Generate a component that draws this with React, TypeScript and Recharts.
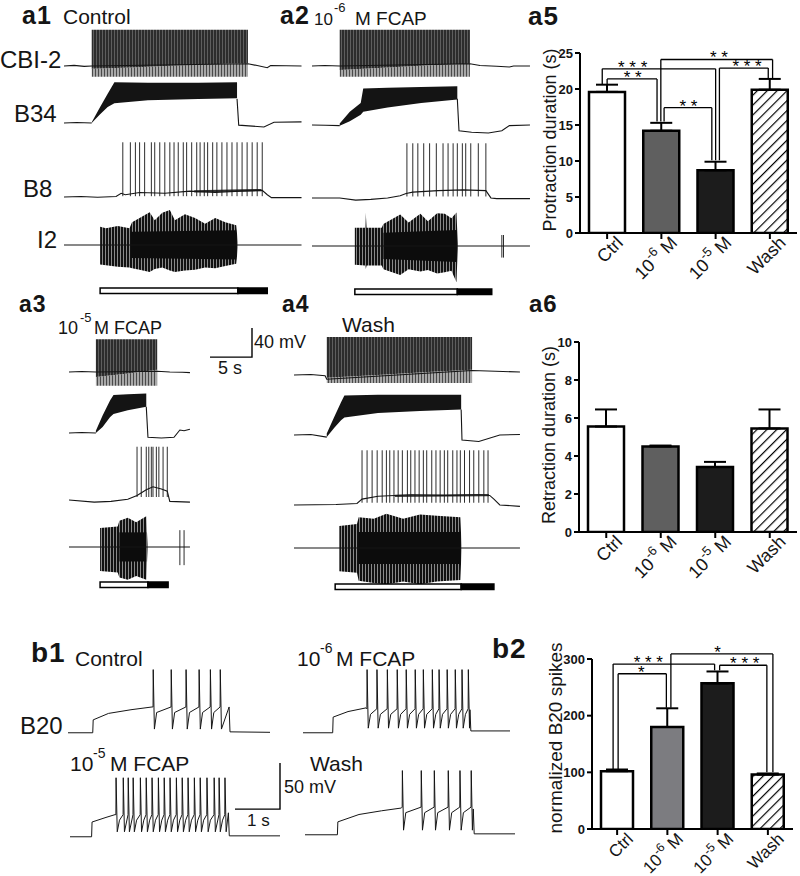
import React from 'react';
import {
  ComposedChart,
  LineChart,
  Line,
  Area,
  Bar,
  Cell,
  XAxis,
  YAxis,
  ErrorBar,
  ReferenceLine,
  ReferenceDot
} from 'recharts';

const FONT = '"Liberation Sans", Arial, Helvetica, sans-serif';
const INK = '#151515';

type Pt = [number, number | null];
type Rng = [number, number, number];

// ---------- a panels: time in s, potential in mV relative to rest ----------
const A_SEC_PX = 8.4;
const A_YDOM: [number, number] = [-55, 85];
const A_H = 102;

// a1 Control
const a1Cbi2Base: Pt[] = [[0, 0], [1.2, 0.8], [2.4, -0.6], [3.3, 0], [21.9, 3], [23, 0.5], [24.2, -2.5], [24.6, 0.5], [28.3, 0]];
const a1Cbi2Upper: Rng[] = [[3.3, -4, 49.5], [8, -2, 49.5], [14, 1, 49.5], [21.9, 4, 49.5]];
const a1Cbi2Lower: Rng[] = [[3.3, -15, -4], [8, -15, -2], [14, -15, 1], [21.9, -15, 4]];
const a1B34Base: Pt[] = [[0, 0], [1.5, 0.5], [3.3, 0], [3.4, null], [20.6, 33], [20.8, -3], [22, -4], [23.8, -5.5], [25, 1], [28.3, 1.4]];
const a1B34Band: Rng[] = [[3.3, 0, 1], [4.3, 12, 22], [5.2, 22, 40], [6.0, 27, 56], [10, 31, 55], [16, 33, 55], [20.6, 34, 56]];
const a1B8Base: Pt[] = [[0, 0], [2, 0.5], [4, -0.5], [6.2, 0.5], [6.8, 5], [7.3, 3], [9, 6], [12, 5], [15, 8], [18, 6], [21, 8], [23.6, 9], [24.2, 3], [24.7, -1], [28.3, -1]];
const a1B8Noise: Rng[] = [[15.5, 6, 9], [23.5, 8, 11]];
const a1B8Spikes = [7.0, 7.9, 8.5, 9.0, 9.6, 10.4, 10.8, 11.4, 12.0, 12.6, 13.1, 13.6, 14.2, 14.6, 15.2, 15.8, 16.2, 16.7, 17.1, 17.7, 18.2, 18.8, 19.4, 20.0, 20.6, 21.2, 21.8, 22.4, 23.0, 23.6];
const a1I2Base: Pt[] = [[0, 0], [28.3, 0]];
const a1I2Envelope: Rng[] = [[4.3, -27, 25], [5.0, -28, 23], [6.4, -30, 26], [7.8, -31, 23], [8.1, -32, 31], [9.0, -34, 37], [10.2, -37, 45], [10.8, -33, 34], [11.7, -31, 44], [12.6, -35, 48], [13.2, -37, 34], [14.4, -35, 42], [15.6, -34, 37], [16.8, -31, 29], [18.0, -32, 37], [19.2, -29, 31], [20.5, -26, 27], [20.7, -4, 4]];
const a1I2Core: Rng[] = [[8.0, -18, 18], [20.5, -20, 20]];

// a2 10^-6 M FCAP
const a2Cbi2Base: Pt[] = [[0, 0], [1.5, 0.5], [3.3, 0], [18.8, 3], [20, 0.5], [22, -0.5], [23.5, -1.5], [24, 0], [25.95, 0]];
const a2Cbi2Upper: Rng[] = [[3.3, -5.5, 49.5], [9, -2, 49.5], [14, 1, 49.5], [18.8, 3, 49.5]];
const a2Cbi2Lower: Rng[] = [[3.3, -15, -5.5], [9, -15, -2], [14, -15, 1], [18.8, -15, 3]];
const a2B34Base: Pt[] = [[0, 0], [1.6, -0.5], [3.3, -1], [3.4, null], [17.3, 36], [17.5, -8], [19, -10], [21, -11], [22.6, -8], [23.5, -1], [25.95, 0]];
const a2B34Band: Rng[] = [[3.3, -1, 2], [4.5, 5, 18], [5.8, 14, 30], [6.1, 18, 50], [9, 24, 51], [13, 30, 52], [17.3, 35, 53]];
const a2B8Base: Pt[] = [[0, 0], [3.3, 0], [5.2, -3], [7, -2], [9, 0], [10.5, 3], [11.2, 6], [12, 8], [15, 10], [18, 11], [20.7, 10], [21.3, 0], [22, -1], [25.95, -1]];
const a2B8Spikes = [11.3, 12.0, 12.6, 13.3, 14.0, 14.8, 15.6, 16.2, 16.8, 17.3, 17.9, 18.3, 18.9, 19.8, 20.7];
const a2I2Base: Pt[] = [[0, 0], [25.95, 0]];
const a2I2Envelope: Rng[] = [[5.1, -26, 25], [6.3, -27, 25], [6.4, -32, 46], [6.5, -27, 25], [8.3, -27, 25], [8.5, -32, 30], [10.5, -40, 43], [11.5, -32, 32], [12.9, -35, 44], [13.8, -33, 34], [14.9, -38, 45], [15.8, -36, 44], [16.6, -34, 38], [17.2, -50, 46], [17.35, -4, 4]];
const a2I2Core: Rng[] = [[8.5, -18, 18], [17.2, -22, 22]];
const a2I2Spikes = [22.6, 22.8];

// a3 10^-5 M FCAP
const a3Cbi2Base: Pt[] = [[0, 0], [1.5, 0.5], [3.2, 0], [10.5, 1], [12, 0], [13.5, -0.5], [14.4, -1]];
const a3Cbi2Upper: Rng[] = [[3.2, -7, 45], [7, -2, 45], [10.5, 3, 45]];
const a3Cbi2Lower: Rng[] = [[3.2, -19, -7], [7, -19, -2], [10.5, -19, 3]];
const a3B34Base: Pt[] = [[0, 0], [1.5, 0.5], [3.2, 0], [3.3, null], [9.2, 36], [9.4, -6], [11, -7], [12.5, -6], [13.2, 4], [13.7, 3], [14.4, 5]];
const a3B34Band: Rng[] = [[3.2, 0, 3], [4.0, 8, 24], [4.9, 22, 45], [5.3, 26, 52], [7, 31, 53], [9.2, 36, 54]];
const a3B8Base: Pt[] = [[0, 0], [3, -3], [5, -2], [7, 1], [8.1, 6], [9.2, 14], [10, 18], [11, 15], [11.7, 12], [12.0, -2], [14.4, -3]];
const a3B8Spikes = [8.1, 8.6, 9.2, 9.5, 9.8, 10.0, 10.4, 10.7, 11.2, 11.7];
const a3I2Base: Pt[] = [[0, 0], [14.4, 0]];
const a3I2Envelope: Rng[] = [[3.7, -33, 26], [5.8, -35, 28], [6.0, -42, 36], [7.0, -45, 40], [8.0, -40, 34], [9.2, -45, 42], [9.35, -4, 4]];
const a3I2Core: Rng[] = [[6.0, -20, 20], [9.2, -20, 20]];
const a3I2Spikes = [13.2, 13.7];

// a4 Wash
const a4Cbi2Base: Pt[] = [[0, 0], [2, 0.5], [3.7, -1], [3.9, -6], [21.2, 6], [24, 5], [26.9, 4]];
const a4Cbi2Upper: Rng[] = [[3.9, -4, 52], [10, 0, 52], [16, 4, 52], [21.2, 7, 52]];
const a4Cbi2Lower: Rng[] = [[3.9, -11, -4], [10, -11, 0], [16, -11, 4], [21.2, -11, 7]];
const a4B34Base: Pt[] = [[0, 0], [2, 0.5], [3.9, -3], [4.0, null], [19.9, 35], [20.0, -7], [22, -9], [24.5, 0], [26.9, 0.5]];
const a4B34Band: Rng[] = [[3.9, -3, 2], [4.8, 10, 25], [5.6, 20, 45], [6.0, 24, 54], [10, 30, 55], [15, 33, 55], [19.9, 35, 55]];
const a4B8Base: Pt[] = [[0, 0], [5, 0.5], [7.5, 2], [8.1, 8], [10, 12], [14, 14], [18, 13], [22, 14], [23.3, 13], [23.8, 8], [24.5, 0], [26.9, -2]];
const a4B8Noise: Rng[] = [[12, 11, 14], [23.2, 12, 15]];
const a4B8Spikes = [8.1, 8.7, 9.3, 9.9, 10.5, 11.0, 11.4, 11.9, 12.4, 12.9, 13.5, 13.9, 14.4, 14.9, 15.4, 15.8, 16.4, 16.9, 17.4, 17.9, 18.3, 18.9, 19.4, 19.8, 20.3, 20.9, 21.4, 22.0, 22.6, 23.1];
const a4I2Base: Pt[] = [[0, 0], [26.9, 0]];
const a4I2Envelope: Rng[] = [[5.4, -32, 30], [7.5, -34, 33], [7.7, -45, 42], [9.5, -48, 40], [11, -50, 47], [13, -46, 40], [15, -50, 46], [17, -46, 44], [19.8, -44, 42], [19.95, -4, 4]];
const a4I2Core: Rng[] = [[7.7, -22, 22], [19.8, -22, 22]];

// protraction / retraction bars (s)
const protocolStart = [4.3, 5.1, 3.7, 4.9];
const protractionDur = [16.4, 12.2, 5.7, 15.0];
const retractionDur = [3.5, 4.1, 2.4, 3.9];

// ---------- b1: B20 traces ----------
const B_SEC_PX = 45;
const B_YDOM: [number, number] = [-10, 80];
const B_H = 83;

const bCtrlPre: Pt[] = [[0, 0], [0.55, 0], [0.56, 14], [0.9, 21], [1.4, 25], [1.87, 28]];
const bCtrlSpikes = [1.89, 2.29, 2.62, 2.91, 3.16, 3.38];
const bCtrlPost: Pt[] = [[3.58, 28], [3.6, 1], [4.49, 0.5]];
const bM6Pre: Pt[] = [[0, 0], [0.66, 0], [0.67, 17], [1.0, 23], [1.4, 27]];
const bM6Spikes = [1.42, 1.64, 1.87, 2.09, 2.29, 2.49, 2.67, 2.87, 3.02, 3.2, 3.38, 3.53, 3.67];
const bM6Post: Pt[] = [[3.71, 25], [3.73, 2], [4.6, 2]];
const bM5Pre: Pt[] = [[0, 0], [0.48, 0], [0.49, 16], [0.8, 21], [1.0, 24]];
const bM5Spikes = [1.02, 1.18, 1.29, 1.4, 1.56, 1.69, 1.82, 1.96, 2.09, 2.22, 2.36, 2.49, 2.62, 2.76, 2.89, 3.04, 3.2, 3.31, 3.44];
const bM5Post: Pt[] = [[3.52, 26], [3.54, 1], [4.67, 1]];
const bWashPre: Pt[] = [[0, 0], [0.72, 0], [0.73, 14], [1.2, 22], [1.7, 26], [2.14, 29]];
const bWashSpikes = [2.16, 2.58, 2.87, 3.18, 3.44, 3.69];
const bWashPost: Pt[] = [[3.74, 28], [3.76, 1], [4.67, 1]];

// ---------- bar charts ----------
const catBase = ['Ctrl', '10', '10', 'Wash'];
const catSup = ['', '-6', '-5', ''];
const protractionMean = [19.6, 14.2, 8.7, 19.9];
const protractionSem = [1.0, 1.1, 1.2, 1.5];
const retractionMean = [5.55, 4.5, 3.42, 5.45];
const retractionSem = [0.9, 0.05, 0.27, 1.0];
const b20Mean = [102, 180, 257, 96];
const b20Sem = [3, 33, 21, 2];

// [x1, x2, y, leftEnd, rightEnd]
const a5Brackets = [
  [0.0, 0.92, 21.4, 20.7, 15.5],
  [-0.09, 2.0, 22.8, 20.7, 10.1],
  [1.05, 1.93, 17.4, 15.5, 10.1],
  [0.99, 3.05, 24.1, 15.5, 21.5],
  [2.07, 2.97, 22.9, 10.1, 21.5]
];
const a5Stars: [number, number, string][] = [
  [0.47, 21.4, '* *'], [0.47, 22.8, '* * *'], [1.5, 17.4, '* *'], [2.06, 24.1, '* *'], [2.58, 22.9, '* * *']
];
const b2Brackets = [
  [0.02, 0.98, 274, 106, 214],
  [-0.08, 1.94, 291, 106, 280],
  [1.07, 3.1, 309, 214, 100],
  [2.04, 2.98, 289, 280, 100]
];
const b2Stars: [number, number, string][] = [
  [0.48, 274, '*'], [0.62, 291, '* * *'], [2.0, 309, '*'], [2.54, 289, '* * *']
];

const aFills = ['#ffffff', '#5f5f5f', '#1c1c1c', 'url(#hatch)'];
const bFills = ['#ffffff', '#7c7c80', '#1c1c1c', 'url(#hatch)'];

// ------------------------------------------------------------------

interface TraceProps {
  left: number;
  ybase: number;
  tMax: number;
  base: Pt[];
  bands?: { pts: Rng[]; fill: string }[];
  spikes?: number[];
  peak?: number;
  trough?: number;
}

const TraceDefs = () => (
  <defs>
    <pattern id="cbiUp" patternUnits="userSpaceOnUse" width="3" height="4">
      <rect width="3" height="4" fill="#2c2c2c" />
      <rect x="2" width="1" height="4" fill="#5e5e5e" />
    </pattern>
    <pattern id="cbiLow" patternUnits="userSpaceOnUse" width="3" height="4">
      <rect width="3" height="4" fill="#a8a8a8" />
      <rect x="1" width="1" height="4" fill="#4a4a4a" />
    </pattern>
    <pattern id="spk" patternUnits="userSpaceOnUse" width="3" height="4">
      <rect width="3" height="4" fill="#8a8a8a" />
      <rect width="2" height="4" fill="#111" />
    </pattern>
  </defs>
);

const Trace: React.FC<TraceProps> = ({ left, ybase, tMax, base, bands = [], spikes = [], peak = 0, trough = 0 }) => {
  const pxPerMv = A_H / (A_YDOM[1] - A_YDOM[0]);
  const top = ybase - A_YDOM[1] * pxPerMv;
  const width = tMax * A_SEC_PX;
  const baseRows = base.map(([t, v]) => ({ t, v }));
  const spikeRows = spikes.flatMap((t) => [{ t, s: trough }, { t, s: peak }, { t, s: null }]);
  return (
    <div style={{ position: 'absolute', left, top }}>
      <ComposedChart width={width} height={A_H} margin={{ top: 0, right: 0, bottom: 0, left: 0 }}>
        <TraceDefs />
        <XAxis type="number" dataKey="t" domain={[0, tMax]} hide allowDataOverflow />
        <YAxis type="number" domain={A_YDOM} hide allowDataOverflow />
        <Line data={baseRows} dataKey="v" stroke={INK} strokeWidth={1.1} dot={false} activeDot={false} connectNulls={false} isAnimationActive={false} />
        {bands.map((b, i) => (
          <Area
            key={i}
            data={b.pts.map(([t, lo, hi]) => ({ t, r: [lo, hi] }))}
            dataKey="r"
            type="linear"
            stroke="none"
            fill={b.fill}
            fillOpacity={1}
            isAnimationActive={false}
          />
        ))}
        {spikes.length > 0 && (
          <Line data={spikeRows} dataKey="s" stroke={INK} strokeWidth={0.9} dot={false} activeDot={false} connectNulls={false} isAnimationActive={false} />
        )}
      </ComposedChart>
    </div>
  );
};

interface B20Props {
  left: number;
  ybase: number;
  tMax: number;
  pre: Pt[];
  spikes: number[];
  post: Pt[];
  peak: number;
  trough: number;
  plateau: number;
}

// each spike: rise at ts, peak, fast AHP trough, then recovery towards the plateau
const B20Trace: React.FC<B20Props> = ({ left, ybase, tMax, pre, spikes, post, peak, trough, plateau }) => {
  const pxPerMv = B_H / (B_YDOM[1] - B_YDOM[0]);
  const top = ybase - B_YDOM[1] * pxPerMv;
  const rows: { t: number; v: number | null }[] = pre.map(([t, v]) => ({ t, v }));
  spikes.forEach((ts, i) => {
    rows.push({ t: ts, v: plateau }, { t: ts + 0.004, v: peak }, { t: ts + 0.03, v: trough });
    const next = i < spikes.length - 1 ? spikes[i + 1] : null;
    if (next !== null && next - ts > 0.12) rows.push({ t: ts + 0.08, v: plateau - 6 });
  });
  post.forEach(([t, v]) => rows.push({ t, v }));
  return (
    <div style={{ position: 'absolute', left, top }}>
      <LineChart width={tMax * B_SEC_PX} height={B_H} data={rows} margin={{ top: 0, right: 0, bottom: 0, left: 0 }}>
        <XAxis type="number" dataKey="t" domain={[0, tMax]} hide allowDataOverflow />
        <YAxis type="number" domain={B_YDOM} hide allowDataOverflow />
        <Line dataKey="v" stroke={INK} strokeWidth={1} dot={false} activeDot={false} isAnimationActive={false} />
      </LineChart>
    </div>
  );
};

const Protocol: React.FC<{ left: number; top: number; tMax: number; i: number }> = ({ left, top, tMax, i }) => {
  const data = [{ name: 'p', lead: protocolStart[i], pro: protractionDur[i], ret: retractionDur[i] }];
  return (
    <div style={{ position: 'absolute', left, top }}>
      <ComposedChart layout="vertical" width={tMax * A_SEC_PX + 1} height={8} data={data} margin={{ top: 1, right: 1, bottom: 1, left: 0 }}>
        <XAxis type="number" domain={[0, tMax]} hide allowDataOverflow />
        <YAxis type="category" dataKey="name" hide />
        <Bar dataKey="lead" stackId="s" fill="none" barSize={6} isAnimationActive={false} />
        <Bar dataKey="pro" stackId="s" fill="#fff" stroke="#000" strokeWidth={1.5} barSize={6} isAnimationActive={false} />
        <Bar dataKey="ret" stackId="s" fill="#000" stroke="#000" strokeWidth={1.5} barSize={6} isAnimationActive={false} />
      </ComposedChart>
    </div>
  );
};

const ScaleBar: React.FC<{ x: number; y: number; tLen: number; vLen: number; pxS: number; pxMv: number }> = ({ x, y, tLen, vLen, pxS, pxMv }) => {
  const data = [{ t: 0, v: 0 }, { t: tLen, v: 0 }, { t: tLen, v: vLen }];
  const w = tLen * pxS;
  const h = vLen * pxMv;
  return (
    <div style={{ position: 'absolute', left: x - 2, top: y - h - 2 }}>
      <LineChart width={w + 4} height={h + 4} data={data} margin={{ top: 2, right: 2, bottom: 2, left: 2 }}>
        <XAxis type="number" dataKey="t" domain={[0, tLen]} hide />
        <YAxis type="number" domain={[0, vLen]} hide />
        <Line dataKey="v" type="linear" stroke="#000" strokeWidth={1.4} dot={false} activeDot={false} isAnimationActive={false} />
      </LineChart>
    </div>
  );
};

const CatTick = (props: any) => {
  const { x, y, payload, fs } = props;
  const i = payload.value as number;
  return (
    <g transform={`translate(${x + 17},${y + 3}) rotate(-45)`}>
      <text textAnchor="end" fontSize={fs} fill={INK} fontFamily={FONT}>
        <tspan>{catBase[i]}</tspan>
        {catSup[i] ? <tspan dy={-fs * 0.45} fontSize={fs * 0.72}>{catSup[i]}</tspan> : null}
        {catSup[i] ? <tspan dy={fs * 0.45}>{'\u00a0M'}</tspan> : null}
      </text>
    </g>
  );
};

interface StatProps {
  left: number;
  top: number;
  width: number;
  height: number;
  marginTop: number;
  marginRight: number;
  xAxisH: number;
  values: number[];
  errors: number[];
  fills: string[];
  yTicks: number[];
  barSize: number;
  tickFont: number;
  brackets?: number[][];
  stars?: [number, number, string][];
}

const StatChart: React.FC<StatProps> = (p) => {
  const data = p.values.map((v, i) => ({ x: i, v, e: [0, p.errors[i]] }));
  const yMax = p.yTicks[p.yTicks.length - 1];
  const axisStyle = { stroke: '#000', strokeWidth: 2 };
  return (
    <div style={{ position: 'absolute', left: p.left, top: p.top }}>
      <ComposedChart width={p.width} height={p.height} data={data} margin={{ top: p.marginTop, right: p.marginRight, bottom: 0, left: 0 }}>
        <defs>
          <pattern id="hatch" patternUnits="userSpaceOnUse" width="7" height="7" patternTransform="rotate(45)">
            <rect width="7" height="7" fill="#fff" />
            <line x1="0" y1="0" x2="0" y2="7" stroke="#000" strokeWidth="2.4" />
          </pattern>
        </defs>
        <XAxis
          type="number"
          dataKey="x"
          domain={[-0.5, 3.5]}
          ticks={[0, 1, 2, 3]}
          interval={0}
          height={p.xAxisH}
          tickSize={6}
          axisLine={axisStyle}
          tickLine={axisStyle}
          tick={(tp: any) => <CatTick {...tp} fs={p.tickFont} />}
          allowDataOverflow
        />
        <YAxis
          type="number"
          domain={[0, yMax]}
          ticks={p.yTicks}
          width={50}
          tickSize={5}
          tickMargin={2}
          axisLine={axisStyle}
          tickLine={axisStyle}
          tick={{ fill: INK, fontSize: 13, fontWeight: 'bold' }}
          allowDataOverflow
        />
        <Bar dataKey="v" barSize={p.barSize} stroke="#000" strokeWidth={2.5} isAnimationActive={false}>
          {data.map((d, i) => (
            <Cell key={i} fill={p.fills[i]} />
          ))}
          <ErrorBar dataKey="e" width={11} stroke="#000" strokeWidth={2} direction="y" />
        </Bar>
        {(p.brackets || []).map((b, i) => (
          <React.Fragment key={'br' + i}>
            <ReferenceLine segment={[{ x: b[0], y: b[2] }, { x: b[1], y: b[2] }]} stroke="#000" strokeWidth={1.3} ifOverflow="visible" />
            <ReferenceLine segment={[{ x: b[0], y: b[2] }, { x: b[0], y: b[3] }]} stroke="#000" strokeWidth={1.3} ifOverflow="visible" />
            <ReferenceLine segment={[{ x: b[1], y: b[2] }, { x: b[1], y: b[4] }]} stroke="#000" strokeWidth={1.3} ifOverflow="visible" />
          </React.Fragment>
        ))}
        {(p.stars || []).map((s, i) => (
          <ReferenceDot
            key={'st' + i}
            x={s[0]}
            y={s[1]}
            r={0}
            stroke="none"
            fill="none"
            ifOverflow="visible"
            label={{ value: s[2], position: 'top', offset: -4, fontSize: 17, fill: '#000' }}
          />
        ))}
      </ComposedChart>
    </div>
  );
};

export default function App() {
  const dark = '#141414';
  return (
    <div style={{ position: 'relative', width: 800, height: 876, background: '#fff', overflow: 'hidden', fontFamily: FONT }}>
      <style>{'body{margin:0}'}</style>

      {/* a1 */}
      <Trace left={64} ybase={66} tMax={28.3} base={a1Cbi2Base} bands={[{ pts: a1Cbi2Lower, fill: 'url(#cbiLow)' }, { pts: a1Cbi2Upper, fill: 'url(#cbiUp)' }]} />
      <Trace left={64} ybase={123} tMax={28.3} base={a1B34Base} bands={[{ pts: a1B34Band, fill: dark }]} />
      <Trace left={64} ybase={197} tMax={28.3} base={a1B8Base} bands={[{ pts: a1B8Noise, fill: '#333' }]} spikes={a1B8Spikes} peak={75} trough={1} />
      <Trace left={64} ybase={245} tMax={28.3} base={a1I2Base} bands={[{ pts: a1I2Envelope, fill: 'url(#spk)' }, { pts: a1I2Core, fill: '#0c0c0c' }]} />
      <Protocol left={64} top={287} tMax={28.3} i={0} />

      {/* a2 */}
      <Trace left={312} ybase={66} tMax={25.95} base={a2Cbi2Base} bands={[{ pts: a2Cbi2Lower, fill: 'url(#cbiLow)' }, { pts: a2Cbi2Upper, fill: 'url(#cbiUp)' }]} />
      <Trace left={312} ybase={125} tMax={25.95} base={a2B34Base} bands={[{ pts: a2B34Band, fill: dark }]} />
      <Trace left={312} ybase={198} tMax={25.95} base={a2B8Base} spikes={a2B8Spikes} peak={75} trough={2} />
      <Trace left={312} ybase={246} tMax={25.95} base={a2I2Base} bands={[{ pts: a2I2Envelope, fill: 'url(#spk)' }, { pts: a2I2Core, fill: '#0c0c0c' }]} spikes={a2I2Spikes} peak={15} trough={-16} />
      <Protocol left={312} top={288} tMax={25.95} i={1} />

      {/* a3 */}
      <Trace left={69} ybase={372} tMax={14.4} base={a3Cbi2Base} bands={[{ pts: a3Cbi2Lower, fill: 'url(#cbiLow)' }, { pts: a3Cbi2Upper, fill: 'url(#cbiUp)' }]} />
      <Trace left={69} ybase={433} tMax={14.4} base={a3B34Base} bands={[{ pts: a3B34Band, fill: dark }]} />
      <Trace left={69} ybase={500} tMax={14.4} base={a3B8Base} spikes={a3B8Spikes} peak={73} trough={4} />
      <Trace left={69} ybase={547} tMax={14.4} base={a3I2Base} bands={[{ pts: a3I2Envelope, fill: 'url(#spk)' }, { pts: a3I2Core, fill: '#0c0c0c' }]} spikes={a3I2Spikes} peak={23} trough={-25} />
      <Protocol left={69} top={581} tMax={14.4} i={2} />

      {/* a4 */}
      <Trace left={294} ybase={375} tMax={26.9} base={a4Cbi2Base} bands={[{ pts: a4Cbi2Lower, fill: 'url(#cbiLow)' }, { pts: a4Cbi2Upper, fill: 'url(#cbiUp)' }]} />
      <Trace left={294} ybase={435} tMax={26.9} base={a4B34Base} bands={[{ pts: a4B34Band, fill: dark }]} />
      <Trace left={294} ybase={505} tMax={26.9} base={a4B8Base} bands={[{ pts: a4B8Noise, fill: '#444' }]} spikes={a4B8Spikes} peak={75} trough={3} />
      <Trace left={294} ybase={548} tMax={26.9} base={a4I2Base} bands={[{ pts: a4I2Envelope, fill: 'url(#spk)' }, { pts: a4I2Core, fill: '#0c0c0c' }]} />
      <Protocol left={294} top={583} tMax={26.9} i={3} />

      <ScaleBar x={210} y={357} tLen={5} vLen={40} pxS={A_SEC_PX} pxMv={A_H / (A_YDOM[1] - A_YDOM[0])} />

      {/* b1 */}
      <B20Trace left={68} ybase={733} tMax={4.49} pre={bCtrlPre} spikes={bCtrlSpikes} post={bCtrlPost} peak={68.5} trough={4} plateau={28} />
      <B20Trace left={303} ybase={733} tMax={4.6} pre={bM6Pre} spikes={bM6Spikes} post={bM6Post} peak={68.5} trough={5} plateau={26} />
      <B20Trace left={70} ybase={837} tMax={4.67} pre={bM5Pre} spikes={bM5Spikes} post={bM5Post} peak={64} trough={5.4} plateau={24} />
      <B20Trace left={305} ybase={835} tMax={4.67} pre={bWashPre} spikes={bWashSpikes} post={bWashPost} peak={69.6} trough={5} plateau={30} />
      <ScaleBar x={235} y={809} tLen={1} vLen={50} pxS={B_SEC_PX} pxMv={B_H / (B_YDOM[1] - B_YDOM[0])} />

      {/* bar charts */}
      <StatChart left={530} top={40} width={270} height={253} marginTop={13} marginRight={3} xAxisH={60}
        values={protractionMean} errors={protractionSem} fills={aFills} yTicks={[0, 5, 10, 15, 20, 25]}
        barSize={36} tickFont={18} brackets={a5Brackets} stars={a5Stars} />
      <StatChart left={529} top={330} width={271} height={262} marginTop={12} marginRight={3} xAxisH={60}
        values={retractionMean} errors={retractionSem} fills={aFills} yTicks={[0, 2, 4, 6, 8, 10]}
        barSize={36} tickFont={18} />
      <StatChart left={542} top={640} width={258} height={236} marginTop={19} marginRight={7} xAxisH={47}
        values={b20Mean} errors={b20Sem} fills={bFills} yTicks={[0, 100, 200, 300]}
        barSize={32} tickFont={17} brackets={b2Brackets} stars={b2Stars} />

      {/* text */}
      <svg width={800} height={876} style={{ position: 'absolute', left: 0, top: 0, pointerEvents: 'none' }} fontFamily={FONT} fill={INK}>
        <g fontWeight="bold" letterSpacing={1}>
          <text x={22} y={24} fontSize={25}>a1</text>
          <text x={280} y={24} fontSize={25}>a2</text>
          <text x={528} y={25} fontSize={26}>a5</text>
          <text x={19} y={312} fontSize={23}>a3</text>
          <text x={282} y={312} fontSize={23}>a4</text>
          <text x={529} y={312} fontSize={24}>a6</text>
          <text x={31} y={662} fontSize={28}>b1</text>
          <text x={492} y={658} fontSize={28}>b2</text>
        </g>
        <text x={63} y={24} fontSize={21}>Control</text>
        <text x={0} y={68} fontSize={24}>CBI-2</text>
        <text x={14} y={122} fontSize={24}>B34</text>
        <text x={23} y={197} fontSize={24}>B8</text>
        <text x={37} y={248} fontSize={24}>I2</text>

        <text x={314} y={25} fontSize={17}>10</text>
        <text x={334} y={12} fontSize={13}>-6</text>
        <text x={355} y={25} fontSize={19}>M FCAP</text>

        <text x={58} y={334} fontSize={18}>10</text>
        <text x={80} y={322} fontSize={13}>-5</text>
        <text x={94} y={334} fontSize={18}>M FCAP</text>
        <text x={342} y={332} fontSize={21}>Wash</text>
        <text x={254} y={348} fontSize={18}>40 mV</text>
        <text x={218} y={374} fontSize={18}>5 s</text>

        <text x={75} y={666} fontSize={21}>Control</text>
        <text x={297} y={666} fontSize={21}>10</text>
        <text x={320} y={653} fontSize={14}>-6</text>
        <text x={336} y={666} fontSize={21}>M FCAP</text>
        <text x={20} y={734} fontSize={24}>B20</text>
        <text x={70} y={771} fontSize={21}>10</text>
        <text x={93} y={758} fontSize={14}>-5</text>
        <text x={110} y={771} fontSize={21}>M FCAP</text>
        <text x={310} y={771} fontSize={21}>Wash</text>
        <text x={284} y={793} fontSize={18}>50 mV</text>
        <text x={247} y={826} fontSize={17}>1 s</text>

        <text x={556} y={140} fontSize={18} textAnchor="middle" transform="rotate(-90, 556, 140)">Protraction duration (s)</text>
        <text x={555} y={435} fontSize={18} textAnchor="middle" transform="rotate(-90, 555, 435)">Retraction duration (s)</text>
        <text x={562} y={738} fontSize={19} textAnchor="middle" transform="rotate(-90, 562, 738)">normalized B20 spikes</text>
      </svg>
    </div>
  );
}
